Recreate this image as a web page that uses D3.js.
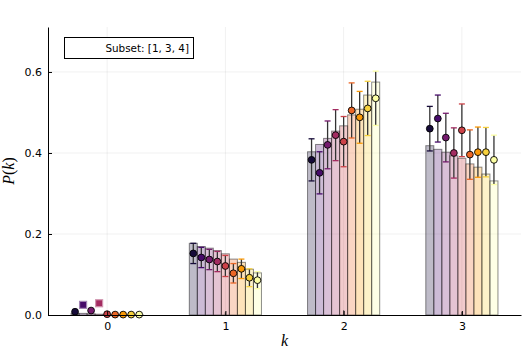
<!DOCTYPE html>
<html>
<head>
<meta charset="utf-8">
<script src="https://cdn.jsdelivr.net/npm/d3@7"></script>
<style>
  body { margin: 0; background: #fff; }
  text { font-family: "DejaVu Sans", sans-serif; }
</style>
</head>
<body>
<svg id="svg"></svg>
<script>
const ks = [0, 1, 2, 3]
const yTicks = [0, 0.2, 0.4, 0.6]
const legendLabel = "Subset: [1, 3, 4]"

// bar heights, one array per k, 9 series each
const barK0 = [0.004, 0.004, 0.003, 0.002, 0.001, 0.0005, 0.0003, 0.0002, 0.0001]
const barK1 = [0.177, 0.169, 0.165, 0.159, 0.151, 0.138, 0.130, 0.113, 0.104]
const barK2 = [0.403, 0.421, 0.436, 0.454, 0.467, 0.494, 0.508, 0.543, 0.575]
const barK3 = [0.418, 0.409, 0.402, 0.393, 0.387, 0.373, 0.365, 0.348, 0.331]

// measured points with error
const ptK0 = [0.008, 0.025, 0.011, 0.029, 0.002, 0.001, 0.001, 0.001, 0.001]
const ptK1 = [0.152, 0.142, 0.137, 0.132, 0.121, 0.103, 0.114, 0.092, 0.086]
const ptK2 = [0.383, 0.351, 0.420, 0.444, 0.428, 0.505, 0.488, 0.510, 0.535]
const ptK3 = [0.460, 0.485, 0.438, 0.400, 0.456, 0.396, 0.402, 0.402, 0.383]

const errK0 = [0.002, 0.003, 0.002, 0.003, 0.001, 0.001, 0.001, 0.001, 0.001]
const errK1 = [0.025, 0.025, 0.025, 0.025, 0.026, 0.024, 0.024, 0.022, 0.021]
const errK2 = [0.052, 0.052, 0.059, 0.063, 0.062, 0.068, 0.064, 0.067, 0.067]
const errK3 = [0.055, 0.058, 0.060, 0.062, 0.065, 0.061, 0.062, 0.061, 0.061]

// small error bar drawn at the group centre
const centreErr = [0.0, 0.007, 0.012, 0.008]

const bars = [barK0, barK1, barK2, barK3]
const pts = [ptK0, ptK1, ptK2, ptK3]
const errs = [errK0, errK1, errK2, errK3]
const squareMarks = [[0, 1], [0, 3]]

const nSeries = 9
const colors = d3.range(nSeries).map(i => d3.interpolateInferno(0.1 + i * 0.9 / 8))

const svg = d3.select("#svg").attr("width", 532).attr("height", 354)

const x = d3.scaleLinear().domain([-0.5, 3.5]).range([48, 521])
const y = d3.scaleLinear().domain([0, 0.711]).range([315, 27])
const step = 0.0678
const bw = x(step) - x(0)
const off = i => (i - (nSeries - 1) / 2) * step

// grid
const grid = svg.append("g")
grid.selectAll("line.gx").data(ks).enter().append("line")
  .attr("x1", d => x(d)).attr("x2", d => x(d))
  .attr("y1", y(0)).attr("y2", y.range()[1])
  .attr("stroke", "#000").attr("stroke-opacity", 0.1).attr("stroke-width", 0.6)
grid.selectAll("line.gy").data(yTicks.slice(1)).enter().append("line")
  .attr("x1", x.range()[0]).attr("x2", x.range()[1])
  .attr("y1", d => y(d)).attr("y2", d => y(d))
  .attr("stroke", "#000").attr("stroke-opacity", 0.1).attr("stroke-width", 0.6)

// bars
const barData = []
ks.forEach((k, gi) => bars[gi].forEach((v, i) => barData.push({ k, i, v })))
svg.append("g").selectAll("rect").data(barData).enter().append("rect")
  .attr("x", d => x(d.k + off(d.i)) - bw / 2)
  .attr("width", bw)
  .attr("y", d => y(d.v))
  .attr("height", d => y(0) - y(d.v))
  .attr("fill", d => colors[d.i])
  .attr("fill-opacity", 0.28)
  .attr("stroke", "#000")
  .attr("stroke-opacity", 0.45)
  .attr("stroke-width", 1)

// centre error marks
svg.append("g").selectAll("line").data(ks).enter().append("line")
  .attr("x1", d => x(d)).attr("x2", d => x(d))
  .attr("y1", y(0)).attr("y2", (d, i) => y(centreErr[i]))
  .attr("stroke", "#222").attr("stroke-width", 1.2).attr("stroke-opacity", 0.7)

// point error bars
const ptData = []
ks.forEach((k, gi) => pts[gi].forEach((v, i) => ptData.push({ k, gi, i, v, e: errs[gi][i] })))
const isSquare = d => squareMarks.some(s => s[0] === d.gi && s[1] === d.i)

const eg = svg.append("g")
const withErr = ptData.filter(d => d.k > 0)
eg.selectAll("line.v").data(withErr).enter().append("line")
  .attr("x1", d => x(d.k + off(d.i))).attr("x2", d => x(d.k + off(d.i)))
  .attr("y1", d => y(d.v - d.e)).attr("y2", d => y(d.v + d.e))
  .attr("stroke", "#333").attr("stroke-width", 1.3)
;["lo", "hi"].forEach(side => {
  eg.selectAll("line.c" + side).data(withErr).enter().append("line")
    .attr("x1", d => x(d.k + off(d.i)) - 3).attr("x2", d => x(d.k + off(d.i)) + 3)
    .attr("y1", d => y(side === "lo" ? d.v - d.e : d.v + d.e))
    .attr("y2", d => y(side === "lo" ? d.v - d.e : d.v + d.e))
    .attr("stroke", d => colors[d.i]).attr("stroke-width", 1.3)
})

// points
svg.append("g").selectAll("circle").data(ptData.filter(d => !isSquare(d))).enter().append("circle")
  .attr("cx", d => x(d.k + off(d.i)))
  .attr("cy", d => y(d.v))
  .attr("r", 3.4)
  .attr("fill", d => colors[d.i])
  .attr("stroke", "#000")
  .attr("stroke-width", 0.9)
svg.append("g").selectAll("rect").data(ptData.filter(isSquare)).enter().append("rect")
  .attr("x", d => x(d.k + off(d.i)) - 3.5)
  .attr("y", d => y(d.v) - 3.5)
  .attr("width", 7).attr("height", 7)
  .attr("fill", d => colors[d.i])
  .attr("stroke", d => d3.interpolateRgb(colors[d.i], "#fff")(0.5))
  .attr("stroke-width", 1.2)

// axes
const yAxis = svg.append("g").attr("transform", `translate(${x.range()[0]},0)`)
  .call(d3.axisLeft(y).tickValues(yTicks).tickFormat(d3.format(".1f")).tickSize(-4).tickPadding(6).tickSizeOuter(0))
const xAxis = svg.append("g").attr("transform", `translate(0,${y(0)})`)
  .call(d3.axisBottom(x).tickValues(ks).tickFormat(d3.format("d")).tickSize(-4).tickPadding(7).tickSizeOuter(0))
;[xAxis, yAxis].forEach(a => {
  a.selectAll("text").attr("font-size", 11).attr("fill", "#000")
  a.select(".domain").attr("stroke", "#000").attr("stroke-width", 1)
  a.selectAll(".tick line").attr("stroke", "#000")
})

// axis labels
const yl = svg.append("text")
  .attr("transform", "translate(14,171) rotate(-90)")
  .attr("text-anchor", "middle")
  .style("font-family", "'Liberation Serif', serif")
  .attr("font-size", 16)
yl.append("tspan").attr("font-style", "italic").text("P")
yl.append("tspan").text("(")
yl.append("tspan").attr("font-style", "italic").text("k")
yl.append("tspan").text(")")

svg.append("text")
  .attr("x", x(1.5)).attr("y", 346)
  .attr("text-anchor", "middle")
  .style("font-family", "'Liberation Serif', serif")
  .attr("font-style", "italic")
  .attr("font-size", 16)
  .text("k")

// legend
svg.append("rect")
  .attr("x", 64.5).attr("y", 37.5).attr("width", 129).attr("height", 21)
  .attr("fill", "#fff").attr("stroke", "#000").attr("stroke-width", 1)
svg.append("text")
  .attr("x", 189).attr("y", 52)
  .attr("text-anchor", "end")
  .attr("font-size", 10.4)
  .text(legendLabel)
</script>
</body>
</html>
